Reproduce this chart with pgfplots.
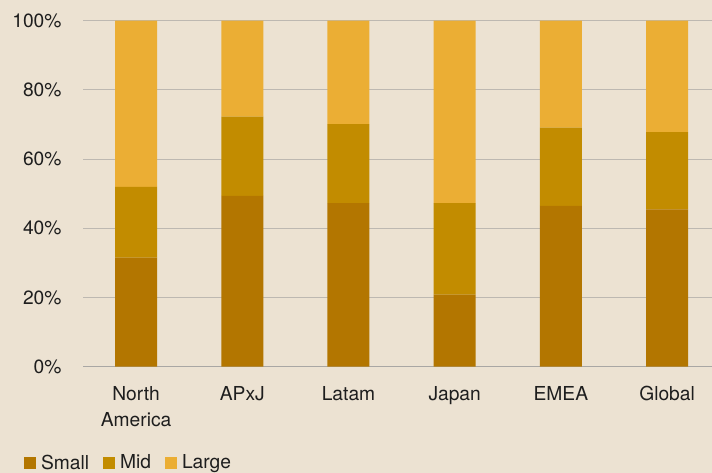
\documentclass[border=0pt]{standalone}
\usepackage{pgfplots}
\pgfplotsset{compat=1.18}
\usepackage{fontspec}
\setmainfont{TeX Gyre Heros}
\definecolor{bg}{HTML}{ECE2D2}
\definecolor{csmall}{HTML}{B37600}
\definecolor{cmid}{HTML}{C28C00}
\definecolor{clarge}{HTML}{EBAE34}
\definecolor{gridc}{HTML}{BDB8B1}
\definecolor{axc}{HTML}{A9A7A4}
\definecolor{txt}{HTML}{1E1E1E}
\newcommand\xl[1]{\rule{0pt}{14bp}#1}
\begin{document}
\begin{tikzpicture}
\fill[bg] (0,0) rectangle (712bp,473bp);
\useasboundingbox (0,0) rectangle (712bp,473bp);
\begin{axis}[
  at={(83bp,106.3bp)}, anchor=south west,
  scale only axis, width=629bp, height=346bp,
  ybar stacked, bar width=42bp,
  xmin=-0.5, xmax=5.423, ymin=0, ymax=100,
  axis x line*=bottom, axis y line*=left,
  x axis line style={draw=axc, line width=1.5bp},
  y axis line style={draw=none},
  xtick={0,1,2,3,4,5},
  xticklabels={\xl{North}\\America, \xl{APxJ}, \xl{Latam}, \xl{Japan}, \xl{EMEA}, \xl{Global}},
  xticklabel style={align=center, font=\fontsize{19.3}{26}\selectfont, text=txt, inner sep=0pt, anchor=north, yshift=-19.3bp},
  ytick={0,20,40,60,80,100},
  yticklabel={\pgfmathprintnumber{\tick}\%},
  yticklabel style={font=\fontsize{19.3}{23}\selectfont, text=txt, inner sep=0pt, anchor=east, xshift=-21.3bp},
  /pgf/number format/assume math mode=true,
  major tick length=0pt,
  tick style={draw=none},
  ymajorgrids, grid style={draw=gridc, line width=1bp},
  clip=false,
  legend style={at={(axis description cs:-0.0938,-0.2775)}, anchor=west, draw=none, fill=none, inner sep=0pt, outer sep=0pt,
    font=\fontsize{19.3}{23}\selectfont, text=txt, legend columns=-1,
    /tikz/every even column/.style={column sep=0pt},
    /tikz/every odd column/.style={column sep=0pt},
    nodes={inner sep=0pt}},
  legend image code/.code={\fill[#1] (0bp,-6bp) rectangle (12bp,6bp);},
  every axis plot/.append style={draw=none},
]
\addplot[fill=csmall] coordinates {(0,31.5) (1,49.4) (2,47.3) (3,20.8) (4,46.5) (5,45.5)};
\addplot[fill=cmid] coordinates {(0,20.5) (1,22.9) (2,22.8) (3,26.5) (4,22.6) (5,22.3)};
\addplot[fill=clarge] coordinates {(0,48.0) (1,27.7) (2,29.9) (3,52.7) (4,30.9) (5,32.2)};
\legend{\hspace*{5bp}Small\hspace*{14bp}, \hspace*{5bp}Mid\hspace*{14bp}, \hspace*{5bp}Large}
\end{axis}
\end{tikzpicture}
\end{document}
